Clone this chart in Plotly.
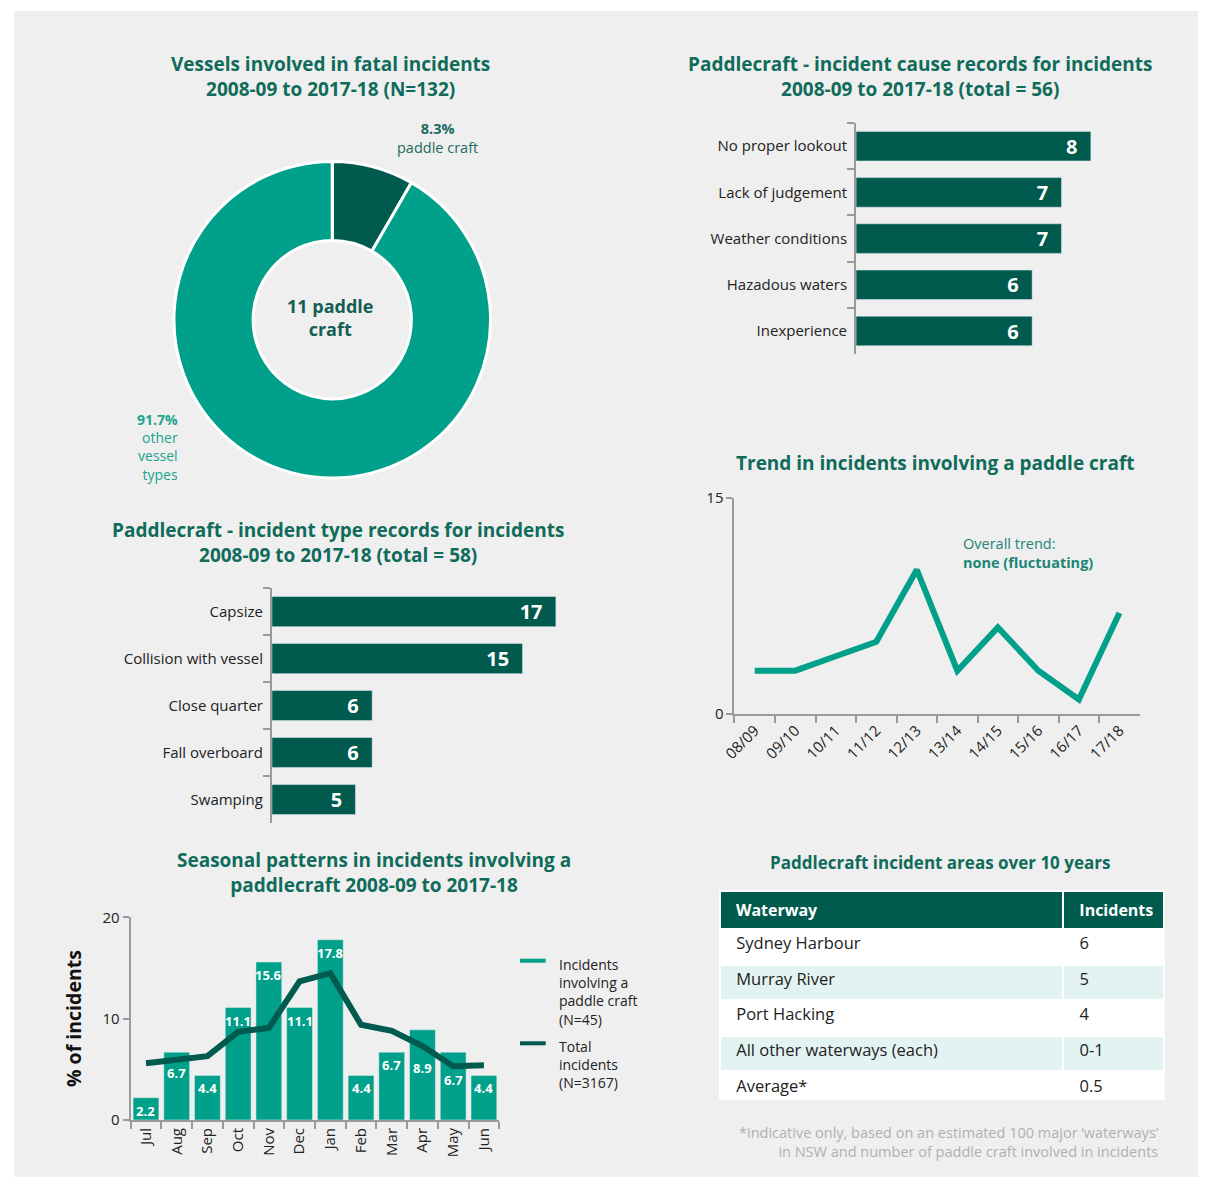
import plotly.graph_objects as go

# ---------------- data ----------------
vessel_labels = ["Paddle craft", "Other vessel types"]
vessel_counts = [11, 121]

cause_labels = ["No proper lookout", "Lack of judgement", "Weather conditions",
                "Hazadous waters", "Inexperience"]
cause_counts = [8, 7, 7, 6, 6]

type_labels = ["Capsize", "Collision with vessel", "Close quarter",
               "Fall overboard", "Swamping"]
type_counts = [17, 15, 6, 6, 5]

trend_years = ["08/09", "09/10", "10/11", "11/12", "12/13",
               "13/14", "14/15", "15/16", "16/17", "17/18"]
trend_counts = [3, 3, 4, 5, 10, 3, 6, 3, 1, 7]

months = ["Jul", "Aug", "Sep", "Oct", "Nov", "Dec",
          "Jan", "Feb", "Mar", "Apr", "May", "Jun"]
paddle_pct = [2.2, 6.7, 4.4, 11.1, 15.6, 11.1, 17.8, 4.4, 6.7, 8.9, 6.7, 4.4]
total_pct = [5.6, 5.9, 6.3, 8.7, 9.1, 13.7, 14.5, 9.4, 8.8, 7.3, 5.3, 5.4]

waterways = ["Sydney Harbour", "Murray River", "Port Hacking",
             "All other waterways (each)", "Average*"]
waterway_incidents = ["6", "5", "4", "0-1", "0.5"]

# ---------------- styling ----------------
W, H = 1214, 1202      # page size
OFF = 8                # page body margin around the figure
FW, FH = W - 2 * OFF, H - 2 * OFF
BG = "#efefef"
DARK = "#005a4e"
TEAL = "#00a08a"
TITLE = "#0f6b5a"
AXIS = "#9a9a9a"
TXT = "#222222"
FONT = "Open Sans"
TS = 19        # chart title size
LS = 15        # tick label size


def fx(px):
    return (px - OFF) / FW


def fy(py):
    return 1 - (py - OFF) / FH


def xdom(a, b):
    return [fx(a), fx(b)]


def ydom(top, bottom):
    return [fy(bottom), fy(top)]


def pad(s):
    return "\u00a0\u00a0" + s


fig = go.Figure()

# Donut: vessels involved in fatal incidents
fig.add_trace(go.Pie(
    labels=vessel_labels, values=vessel_counts, hole=0.5, sort=False,
    direction="clockwise", rotation=0, textinfo="none", hoverinfo="label+value",
    marker=dict(colors=[DARK, TEAL], line=dict(color="white", width=3)),
    domain=dict(x=xdom(169, 491), y=ydom(161, 483)), showlegend=False,
))

# Horizontal bars: incident causes
fig.add_trace(go.Bar(
    x=cause_counts, y=cause_labels, orientation="h", width=0.64,
    marker=dict(color=DARK), text=[str(v) + "\u00a0\u00a0" for v in cause_counts],
    textposition="inside", insidetextanchor="end", constraintext="none",
    textangle=0,
    textfont=dict(family=FONT, size=20, color="white", weight="bold"),
    xaxis="x", yaxis="y", showlegend=False,
))

# Horizontal bars: incident types
fig.add_trace(go.Bar(
    x=type_counts, y=type_labels, orientation="h", width=0.64,
    marker=dict(color=DARK), text=[str(v) + "\u00a0\u00a0" for v in type_counts],
    textposition="inside", insidetextanchor="end", constraintext="none",
    textangle=0,
    textfont=dict(family=FONT, size=20, color="white", weight="bold"),
    xaxis="x2", yaxis="y2", showlegend=False,
))

# Line: yearly trend
fig.add_trace(go.Scatter(
    x=trend_years, y=trend_counts, mode="lines",
    line=dict(color=TEAL, width=6), xaxis="x3", yaxis="y3", showlegend=False,
))

# Seasonal bars + total line
fig.add_trace(go.Bar(
    x=months, y=paddle_pct, width=0.84, marker=dict(color=TEAL),
    xaxis="x4", yaxis="y4", showlegend=False,
))
fig.add_trace(go.Scatter(
    x=months, y=total_pct, mode="lines", line=dict(color=DARK, width=6),
    xaxis="x4", yaxis="y4", showlegend=False,
))

# bar value labels, nudged lower where the total line crosses the bar top
label_drop = {"Aug": 8, "Apr": 25, "May": 15}
for m, v in zip(months, paddle_pct):
    fig.add_annotation(
        xref="x4", yref="y4", x=m, y=v, text=f"{v:.1f}", showarrow=False,
        yanchor="middle", yshift=-13 - label_drop.get(m, 0),
        font=dict(family=FONT, size=13, color="white", weight="bold"))

# Table: incident areas
n = len(waterways)
row_fill = ["white" if i % 2 == 0 else "#e3f3f1" for i in range(n)]
fig.add_trace(go.Table(
    domain=dict(x=xdom(722, 1172), y=ydom(903, 1116)),
    columnwidth=[348, 102],
    header=dict(values=[pad("<b>Waterway</b>"), pad("<b>Incidents</b>")],
                fill_color=DARK, align="left", height=35,
                font=dict(family=FONT, size=16, color="white"),
                line=dict(color="white", width=2)),
    cells=dict(values=[[pad(w) for w in waterways],
                       [pad(v) for v in waterway_incidents]],
               fill_color=[row_fill, row_fill], align="left", height=35.6,
               font=dict(family=FONT, size=16.5, color=TXT),
               line=dict(color="white", width=2)),
))

tickfont = dict(family=FONT, size=LS, color=TXT)
cat_axis = dict(type="category", showline=True, linecolor=AXIS, linewidth=2,
                ticks="outside", tickson="boundaries", tickcolor=AXIS,
                ticklen=7, tickwidth=2, tickfont=tickfont, showgrid=False,
                zeroline=False, fixedrange=True)
val_axis = dict(showline=False, showgrid=False, zeroline=False,
                showticklabels=False, ticks="", fixedrange=True)

fig.update_layout(
    width=FW, height=FH, autosize=False,
    margin=dict(l=0, r=0, t=0, b=0),
    paper_bgcolor="white", plot_bgcolor="rgba(0,0,0,0)",
    font=dict(family=FONT, color=TXT),
    # cause bars
    xaxis=dict(val_axis, domain=xdom(860, 1157), range=[0, 10], anchor="y"),
    yaxis=dict(cat_axis, domain=ydom(122, 357), anchor="x",
               autorange="reversed", ticklabelstandoff=4),
    # type bars
    xaxis2=dict(val_axis, domain=xdom(269, 607), range=[0, 20], anchor="y2"),
    yaxis2=dict(cat_axis, domain=ydom(595, 834), anchor="x2",
                autorange="reversed", ticklabelstandoff=4),
    # trend line
    xaxis3=dict(cat_axis, domain=xdom(737, 1147), anchor="y3",
                range=[-0.5, 9.5], tickangle=-45),
    yaxis3=dict(domain=ydom(503, 723), anchor="x3", range=[0, 15],
                tickvals=[0, 15], showline=True, linecolor=AXIS, linewidth=2,
                ticks="outside", tickcolor=AXIS, ticklen=6, tickwidth=2,
                tickfont=tickfont, showgrid=False, zeroline=False,
                fixedrange=True),
    # seasonal
    xaxis4=dict(cat_axis, domain=xdom(126, 499), anchor="y4",
                range=[-0.5, 11.5], tickangle=-90),
    yaxis4=dict(domain=ydom(930, 1136), anchor="x4", range=[0, 20],
                tickvals=[0, 10, 20], showline=True, linecolor=AXIS,
                linewidth=2, ticks="outside", tickcolor=AXIS, ticklen=6,
                tickwidth=2, tickfont=tickfont, showgrid=False,
                zeroline=False, fixedrange=True),
)

# light panel behind everything (runs out to the right and bottom edges)
fig.add_shape(type="rect", xref="paper", yref="paper", layer="below",
              x0=fx(8), x1=1, y0=0, y1=fy(8),
              fillcolor=BG, line=dict(width=0))

# seasonal legend keys
for ypx, col in [(974, TEAL), (1058, DARK)]:
    fig.add_shape(type="line", xref="paper", yref="paper",
                  x0=fx(520), x1=fx(546), y0=fy(ypx), y1=fy(ypx),
                  line=dict(color=col, width=4))


def note(xpx, ypx, text, size=15, color=TXT, xanchor="center",
         yanchor="middle", align=None, weight="normal", textangle=0):
    if align is None:
        align = {"left": "left", "right": "right"}.get(xanchor, "center")
    fig.add_annotation(xref="paper", yref="paper", x=fx(xpx), y=fy(ypx),
                       text=text, showarrow=False, xanchor=xanchor,
                       yanchor=yanchor, align=align, textangle=textangle,
                       font=dict(family=FONT, size=size, color=color,
                                 weight=weight))


TT = dict(size=TS, color=TITLE, weight="bold")
note(328, 75, "Vessels involved in fatal incidents<br>2008-09 to 2017-18 (N=132)", **TT)
note(925, 75, "Paddlecraft - incident cause records for incidents<br>"
     "2008-09 to 2017-18 (total = 56)", **TT)
note(336, 549, "Paddlecraft - incident type records for incidents<br>"
     "2008-09 to 2017-18 (total = 58)", **TT)
note(940, 468, "Trend in incidents involving a paddle craft", **TT)
note(372, 884, "Seasonal patterns in incidents involving a<br>"
     "paddlecraft 2008-09 to 2017-18", **TT)
note(945, 874, "Paddlecraft incident areas over 10 years",
     size=17, color=TITLE, weight="bold")

# donut labels
share = [100 * v / sum(vessel_counts) for v in vessel_counts]
note(437, 137, f"<b>{share[0]:.1f}%</b><br>paddle craft", size=14.5,
     color="#1b6b60")
note(176, 451, f"<b>{share[1]:.1f}%</b><br>other<br>vessel<br>types",
     size=14, color="#1aa58c", xanchor="right")
note(328, 320, f"{vessel_counts[0]} paddle<br>craft", size=18,
     color="#155e55", weight="bold")

# trend note
note(966, 559, "Overall trend:<br><b>none (fluctuating)</b>", size=14.5,
     color="#1c8576", xanchor="left")

# seasonal axis title and legend text
note(68, 1033, "% of incidents", size=19.5, color="#111111", weight="bold",
     textangle=-90)
note(557, 966, "Incidents<br>involving a<br>paddle craft<br>(N=45)",
     size=14, xanchor="left", yanchor="top")
note(557, 1050, "Total<br>incidents<br>(N=3167)",
     size=14, xanchor="left", yanchor="top")

# table footnote
note(1169, 1158, "*indicative only, based on an estimated 100 major \u2018waterways\u2019<br>"
     "in NSW and number of paddle craft involved in incidents",
     size=14.5, color="#b0b0b0", xanchor="right")

fig.write_html("out.html")
